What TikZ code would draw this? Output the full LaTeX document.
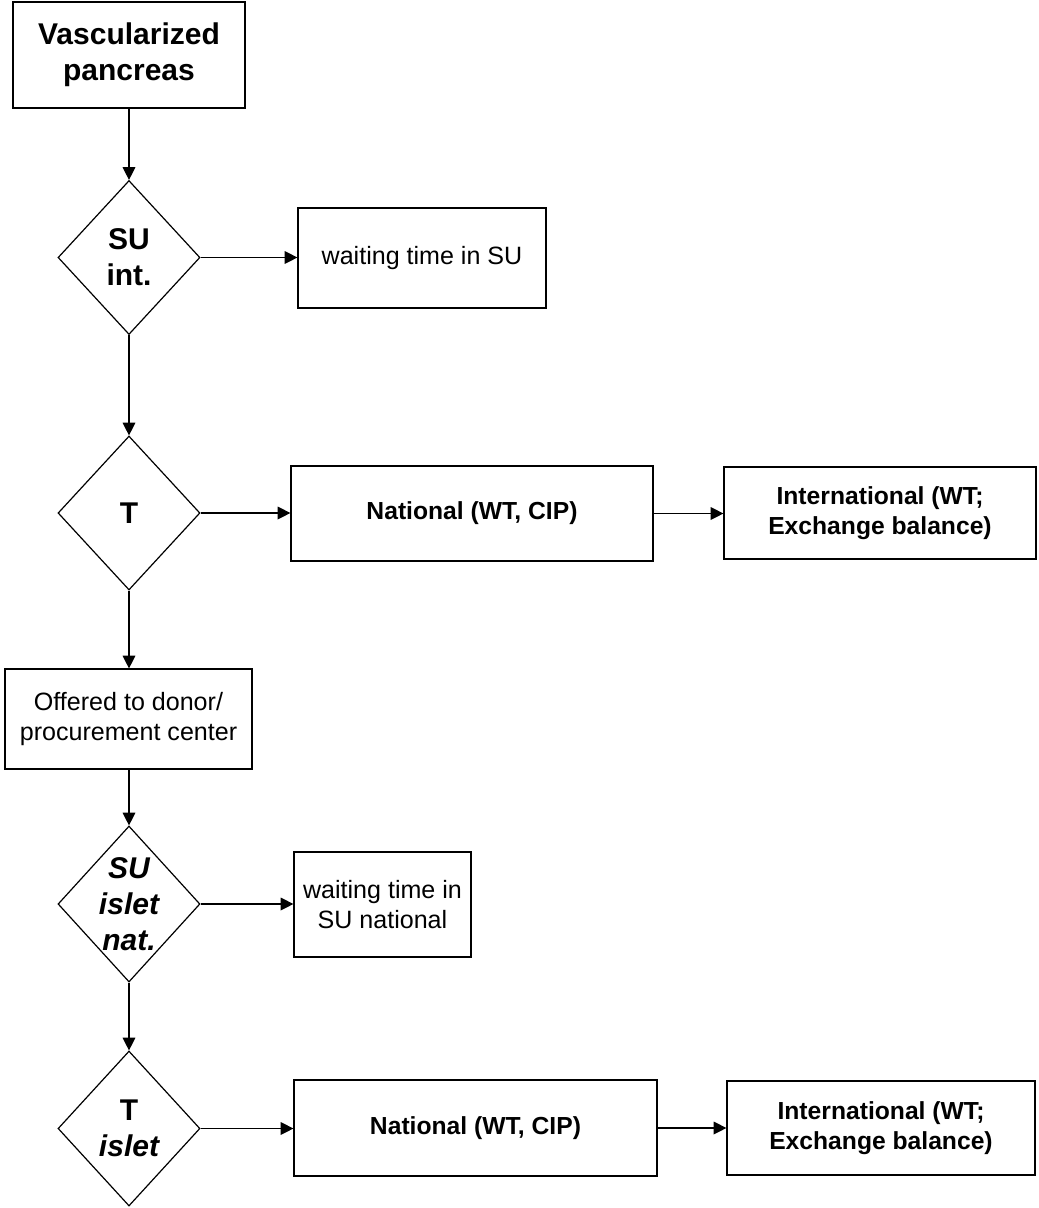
\documentclass[tikz,border=0pt]{standalone}
\usepackage{fontspec}
\setmainfont{Liberation Sans}
\usetikzlibrary{shapes.geometric,arrows.meta}
\begin{document}
\begin{tikzpicture}[x=0.75pt,y=-0.75pt,
  every node/.style={line width=0.9pt},
  box/.style={draw, rectangle, inner sep=0pt, align=center},
  bigtxt/.style={font=\fontsize{22.5}{27}\selectfont\bfseries},
  boldtxt/.style={font=\fontsize{18.5}{22.5}\selectfont\bfseries},
  plaintxt/.style={font=\fontsize{18.8}{22.5}\selectfont},
  dia/.style={draw, diamond, inner sep=0pt, minimum width=106.5pt, minimum height=115.5pt},
  dlabel/.style={bigtxt, align=center, inner sep=0pt},
  flow/.style={line width=0.9pt, -{Triangle[length=9.5pt,width=9.5pt]}}]
\useasboundingbox (0,0) rectangle (1039,1208);

% main column
\node[box, bigtxt, minimum width=174pt, minimum height=79.5pt] (vp) at (129,55) {Vascularized\\pancreas};
\node[dia, label={[dlabel]center:SU\\int.}] (su) at (129,257.5) {};
\node[box, plaintxt, minimum width=186pt, minimum height=75pt] (wsu) at (422,258) {waiting time in SU};
\node[dia, label={[dlabel]center:T}] (t) at (129,513) {};
\node[box, boldtxt, minimum width=271.5pt, minimum height=71.25pt] (nat) at (472,513.5) {National (WT, CIP)};
\node[box, boldtxt, minimum width=234pt, minimum height=69pt] (int) at (880,513) {International (WT;\\Exchange balance)};
\node[box, plaintxt, minimum width=185.25pt, minimum height=75pt] (off) at (128.5,719) {Offered to donor/\\procurement center};

% islet branch
\node[dia, minimum height=117pt, label={[dlabel]center:\itshape SU\\\itshape islet\\\itshape nat.}] (sui) at (129,904) {};
\node[box, plaintxt, minimum width=132.75pt, minimum height=78.75pt] (wsun) at (382.5,904.5) {waiting time in\\SU national};
\node[dia, minimum height=116.25pt, label={[dlabel]center:T\\\itshape islet}] (ti) at (129,1128.5) {};
\node[box, boldtxt, minimum width=272.25pt, minimum height=72pt] (nati) at (475.5,1128) {National (WT, CIP)};
\node[box, boldtxt, minimum width=231pt, minimum height=70.5pt] (inti) at (881,1128) {International (WT;\\Exchange balance)};

% connectors
\draw[flow] (vp.south) -- (su.north);
\draw[flow] (su.east) -- (su.east -| wsu.west);
\draw[flow] (su.south) -- (t.north);
\draw[flow] (t.east) -- (t.east -| nat.west);
\draw[flow] (nat.east) -- (nat.east -| int.west);
\draw[flow] (t.south) -- (t.south |- off.north);
\draw[flow] (off.south -| sui.north) -- (sui.north);
\draw[flow] (sui.east) -- (sui.east -| wsun.west);
\draw[flow] (sui.south) -- (ti.north);
\draw[flow] (ti.east) -- (ti.east -| nati.west);
\draw[flow] (nati.east) -- (nati.east -| inti.west);
\end{tikzpicture}
\end{document}
